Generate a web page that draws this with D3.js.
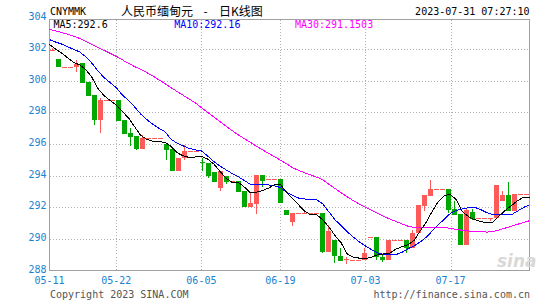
<!DOCTYPE html>
<html><head><meta charset="utf-8">
<script src="https://cdn.jsdelivr.net/npm/d3@7"></script>
<style>
html,body{margin:0;padding:0;background:#fff;}
svg{display:block;}
text{font-family:"DejaVu Sans Mono",monospace;}
</style></head>
<body>
<script>
// ---- data ----
const dates = [
"05-11","05-12","05-13","05-14","05-15","05-16","05-17","05-18","05-19","05-20",
"05-21","05-22","05-23","05-24","05-25","05-26","05-27","05-28","05-29","05-30",
"05-31","06-01","06-02","06-03","06-04","06-05","06-06","06-07","06-08","06-09",
"06-10","06-12","06-13","06-14","06-15","06-16","06-17","06-18","06-19","06-20",
"06-21","06-22","06-23","06-24","06-25","06-26","06-27","06-28","06-29","06-30",
"07-01","07-02","07-03","07-04","07-05","07-06","07-07","07-08","07-09","07-10",
"07-11","07-12","07-13","07-14","07-15","07-16","07-17","07-18","07-19","07-20",
"07-21","07-22","07-23","07-24","07-25","07-26","07-27","07-28","07-29","07-30"];
const open  = [301.95,301.35,300.88,300.88,300.88,301.10,299.90,299.08,297.52,298.78,
298.78,298.77,297.50,296.68,296.51,295.67,296.36,296.36,296.36,295.98,
295.67,294.30,295.10,295.56,295.56,294.88,294.79,294.22,293.20,293.95,
293.63,293.63,293.04,292.00,292.22,294.05,293.78,293.78,293.78,291.80,
291.06,291.63,291.63,291.63,291.63,291.63,289.17,289.95,288.94,288.66,
288.68,288.68,288.68,290.10,290.10,288.83,288.68,289.95,289.95,289.95,
289.42,290.37,292.05,292.73,293.17,293.17,293.17,291.90,291.58,289.63,
291.70,291.31,291.31,291.31,291.31,292.41,292.79,291.78,292.83,292.83];
const high  = [302.08,301.35,300.88,300.88,301.31,301.10,299.90,299.08,298.89,298.78,
298.78,298.77,297.50,297.00,296.51,296.57,296.36,296.36,296.36,295.98,
295.67,295.10,295.94,295.56,295.56,295.10,294.79,294.22,294.32,293.95,
293.63,293.63,293.04,292.94,294.05,294.05,293.78,293.78,293.78,291.80,
291.63,291.63,291.70,291.63,291.63,291.63,290.85,289.95,289.42,288.86,
288.68,288.68,289.42,290.10,290.10,288.95,289.95,289.95,289.95,289.95,
290.58,292.15,292.79,293.73,293.17,293.17,293.17,292.41,291.58,291.95,
291.90,291.31,291.31,291.31,293.43,293.04,293.59,292.83,292.83,292.83];
const low   = [301.95,300.90,300.88,300.88,300.53,299.84,299.03,297.20,296.68,298.78,
298.78,297.46,296.64,295.90,295.60,295.67,296.36,296.36,296.36,294.99,
294.30,294.30,294.99,295.56,295.56,294.30,293.88,293.59,293.04,293.46,
293.63,292.96,292.00,292.00,291.57,293.31,293.78,293.78,292.26,291.48,
290.83,291.55,291.63,291.63,291.63,289.10,289.17,288.48,288.58,288.40,
288.68,288.68,288.68,290.10,288.68,288.55,288.68,289.95,289.95,289.10,
289.42,290.37,291.74,292.73,293.17,293.17,291.63,291.52,289.63,289.63,
291.18,291.31,291.31,291.10,291.31,292.41,291.74,291.78,292.83,292.83];
const close = [301.95,300.90,300.88,300.88,301.05,299.84,299.03,297.52,298.80,298.78,
298.78,297.46,296.64,296.43,295.67,296.36,296.36,296.36,296.36,295.60,
294.30,295.10,295.56,295.56,295.56,294.82,293.98,293.59,294.32,293.57,
293.63,292.96,292.00,292.26,294.05,293.67,293.78,293.78,292.26,291.48,
291.63,291.63,291.63,291.63,291.63,289.17,290.47,288.94,288.58,288.70,
288.68,288.68,289.10,290.10,288.83,288.68,289.95,289.95,289.95,289.42,
290.37,292.15,292.79,293.17,293.17,293.17,291.80,291.52,289.63,291.80,
291.27,291.31,291.31,291.31,293.43,292.79,291.74,292.83,292.83,292.83];
const ma5 = [302.30,302.00,301.75,301.45,301.15,301.00,300.70,300.20,299.50,299.05,
298.75,298.45,298.05,297.65,297.10,296.55,296.30,296.18,296.14,296.11,
295.85,295.45,295.25,295.15,295.18,295.21,295.05,294.75,294.30,293.85,
293.59,293.59,293.30,292.94,292.94,293.05,293.20,293.42,293.45,292.95,
292.55,292.15,291.75,291.52,291.52,291.20,290.75,290.20,289.75,289.05,
288.85,288.78,288.75,288.85,289.00,289.05,289.10,289.35,289.50,289.63,
289.90,290.50,291.05,291.75,292.37,292.75,292.80,292.47,291.70,291.40,
291.21,291.10,291.00,291.05,291.45,291.80,292.10,292.40,292.64,292.60];
const ma10 = [302.60,302.45,302.32,302.15,301.98,301.82,301.50,301.10,300.60,300.20,
299.88,299.55,299.10,298.75,298.35,297.90,297.55,297.25,297.00,296.78,
296.30,296.05,295.88,295.72,295.63,295.56,295.25,294.90,294.62,294.38,
294.15,293.95,293.70,293.47,293.42,293.42,293.42,293.35,293.25,292.95,
292.75,292.58,292.52,292.50,292.47,292.20,291.70,291.20,290.85,290.45,
290.12,289.80,289.55,289.32,289.12,289.00,289.00,289.00,289.15,289.38,
289.55,289.80,290.10,290.50,290.90,291.25,291.62,291.80,291.90,291.97,
291.99,291.85,291.65,291.52,291.52,291.52,291.52,291.75,291.98,292.16];
const ma30 = [303.25,303.16,303.05,302.94,302.82,302.67,302.48,302.29,302.10,301.92,
301.73,301.54,301.32,301.10,300.90,300.72,300.52,300.30,300.06,299.82,
299.56,299.32,299.08,298.84,298.60,298.30,298.01,297.72,297.43,297.14,
296.86,296.60,296.35,296.12,295.88,295.65,295.42,295.20,294.98,294.75,
294.50,294.33,294.18,294.04,293.90,293.73,293.45,293.18,292.92,292.66,
292.42,292.20,291.99,291.80,291.62,291.42,291.26,291.10,290.95,290.80,
290.73,290.73,290.73,290.73,290.73,290.72,290.66,290.60,290.54,290.50,
290.47,290.45,290.43,290.47,290.57,290.68,290.80,290.92,291.03,291.15];
const xTicks = ["05-11","05-22","06-05","06-19","07-03","07-17"];
const yTicks = [288,290,292,294,296,298,300,302,304];
const maLabels = ["MA5:292.6","MA10:292.16","MA30:291.1503"];
const maColors = ["#000000","#0000ff","#ff00ff"];

// ---- chart ----
const W = 545, H = 300;
const L = 49.5, R = 529.5, T = 19.5, B = 270.5;
const svg = d3.select("body").append("svg").attr("width", W).attr("height", H);

const xBand = d3.scaleBand().domain(dates).range([L, R]).paddingInner(1/6).paddingOuter(1/12);
const xLine = d3.scalePoint().domain(dates).range([L, R]);
const y = d3.scaleLinear().domain([288, 304]).range([B, 17.5]);

// grid
const grid = svg.append("g").attr("stroke", "#b0b0b0").attr("stroke-dasharray", "1,2").attr("shape-rendering", "crispEdges");
grid.selectAll("line.h").data(yTicks.filter(v => y(v) > T + 1 && y(v) < B - 1)).join("line")
  .attr("x1", L).attr("x2", R).attr("y1", d => Math.round(y(d)) + 0.5).attr("y2", d => Math.round(y(d)) + 0.5);
grid.selectAll("line.v").data(xTicks.filter(d => xLine(d) > L + 1)).join("line")
  .attr("x1", d => Math.round(xLine(d)) + 0.5).attr("x2", d => Math.round(xLine(d)) + 0.5).attr("y1", T).attr("y2", B);

// frame
svg.append("rect").attr("x", L).attr("y", T).attr("width", R - L).attr("height", B - T)
  .attr("fill", "none").attr("stroke", "#a0a0a0").attr("shape-rendering", "crispEdges");

// y labels
svg.append("g").selectAll("text").data(yTicks).join("text")
  .attr("x", 46.5).attr("y", d => y(d) + 2).attr("text-anchor", "end")
  .attr("font-size", 10).attr("fill", "#1a82d2").text(d => d);

// x labels
svg.append("g").selectAll("text").data(xTicks).join("text")
  .attr("x", d => xLine(d)).attr("y", 283.5).attr("text-anchor", "middle")
  .attr("font-size", 10).attr("fill", "#1a82d2").text(d => d);

// candles
const RED = "#ff5a5a", GREEN = "#00a800";
const cg = svg.append("g").attr("shape-rendering", "crispEdges");
const idx = d3.range(dates.length);
cg.selectAll("line").data(idx).join("line")
  .attr("x1", i => xBand(dates[i]) + xBand.bandwidth() / 2)
  .attr("x2", i => xBand(dates[i]) + xBand.bandwidth() / 2)
  .attr("y1", i => y(high[i])).attr("y2", i => y(low[i]))
  .attr("stroke", i => close[i] >= open[i] ? RED : GREEN);
cg.selectAll("rect").data(idx).join("rect")
  .attr("x", i => xBand(dates[i])).attr("width", xBand.bandwidth())
  .attr("y", i => y(Math.max(open[i], close[i])))
  .attr("height", i => Math.max(1, Math.abs(y(open[i]) - y(close[i]))))
  .attr("fill", i => close[i] >= open[i] ? RED : GREEN);

// MA lines
const line = d3.line().x((d, i) => xLine(dates[i])).y(d => y(d));
[ma30, ma10, ma5].forEach((s, k) => {
  svg.append("path").attr("d", line(s)).attr("fill", "none")
    .attr("stroke", maColors[2 - k]).attr("stroke-width", 1).attr("shape-rendering", "crispEdges");
});

// header
svg.append("text").attr("x", 50).attr("y", 15).attr("font-size", 10).attr("fill", "#000").text("CNYMMK");
svg.append("text").attr("x", 121).attr("y", 15.5).attr("font-size", 12)
  .style("font-family", "'Noto Sans CJK SC',sans-serif").attr("fill", "#000").text("人民币缅甸元");
svg.append("text").attr("x", 205.5).attr("y", 15.5).attr("font-size", 12).attr("text-anchor", "middle")
  .style("font-family", "'Noto Sans CJK SC',sans-serif").attr("fill", "#000").text("-");
svg.append("text").attr("x", 219).attr("y", 15.5).attr("font-size", 12)
  .style("font-family", "'Noto Sans CJK SC',sans-serif").attr("fill", "#000").text("日K线图");
svg.append("text").attr("x", 529.5).attr("y", 15).attr("text-anchor", "end").attr("font-size", 10)
  .attr("fill", "#000").text("2023-07-31 07:27:10");
svg.append("g").selectAll("text").data(maLabels).join("text")
  .attr("x", (d, i) => 53.5 + i * 120.7).attr("y", 27.5).attr("font-size", 10)
  .attr("fill", (d, i) => maColors[i]).text(d => d);

// footer
svg.append("text").attr("x", 50).attr("y", 297.5).attr("font-size", 10).attr("fill", "#555").text("Copyright 2023 SINA.COM");
svg.append("text").attr("x", 530).attr("y", 297.5).attr("text-anchor", "end").attr("font-size", 10).attr("fill", "#555").text("http://finance.sina.com.cn");

// watermark
svg.append("text").attr("x", 497).attr("y", 267).attr("font-size", 17).attr("font-style", "italic").attr("font-weight", "bold")
  .style("font-family", "'DejaVu Sans',sans-serif").attr("fill", "#d9d9d9").text("sina");
</script>
</body></html>
